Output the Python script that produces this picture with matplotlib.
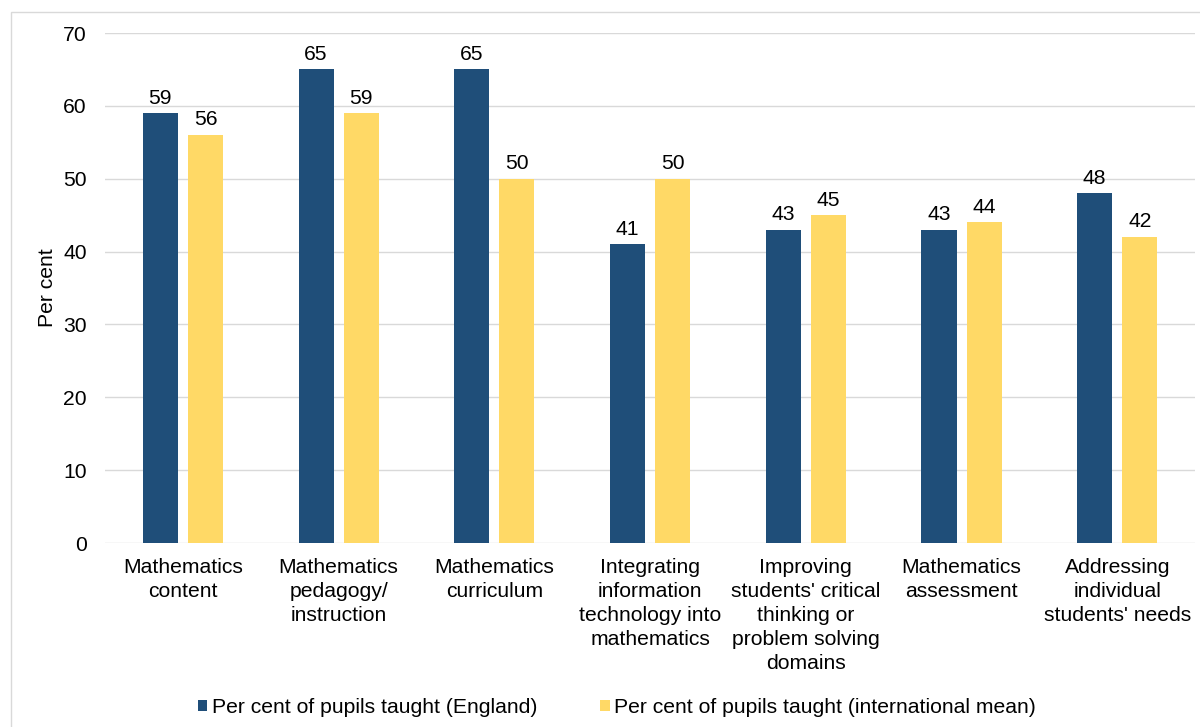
import matplotlib
matplotlib.use("Agg")
import matplotlib.pyplot as plt
from matplotlib.patches import Rectangle
import numpy as np

plt.rcParams['font.family'] = ['Liberation Sans', 'DejaVu Sans']

categories = ["Mathematics\ncontent", "Mathematics\npedagogy/\ninstruction",
              "Mathematics\ncurriculum",
              "Integrating\ninformation\ntechnology into\nmathematics",
              "Improving\nstudents' critical\nthinking or\nproblem solving\ndomains",
              "Mathematics\nassessment",
              "Addressing\nindividual\nstudents' needs"]
england = [59, 65, 65, 41, 43, 43, 48]
intl_mean = [56, 59, 50, 50, 45, 44, 42]
series_names = ["Per cent of pupils taught (England)",
                "Per cent of pupils taught (international mean)"]

blue = "#1F4E79"
yellow = "#FFD966"
fs = 15.2

fig = plt.figure(figsize=(12, 7.27), dpi=100)
ax = fig.add_axes([0.0875, 0.253, 0.9085, 0.7016])

x = np.arange(len(categories))
w = 0.225
off = 0.145
b1 = ax.bar(x - off, england, w, color=blue, label=series_names[0], zorder=3)
b2 = ax.bar(x + off, intl_mean, w, color=yellow, label=series_names[1], zorder=3)

for bars in (b1, b2):
    for r in bars:
        ax.annotate(f"{r.get_height():.0f}", (r.get_x() + r.get_width() / 2, r.get_height()),
                    xytext=(0, 4), textcoords="offset points", ha="center", va="bottom",
                    fontsize=fs, color="#000000")

ax.set_xlim(-0.5, len(categories) - 0.5)
ax.set_ylim(0, 70)
ax.set_yticks(range(0, 71, 10))
ax.set_xticks(x)
ax.set_xticklabels(categories, fontsize=fs, linespacing=1.32)
ax.tick_params(axis="y", labelsize=fs, length=0, pad=13)
ax.tick_params(axis="x", length=0, pad=11)
ax.grid(axis="y", color="#D9D9D9", linewidth=1, zorder=0)
for s in ax.spines.values():
    s.set_visible(False)
ax.set_ylabel("Per cent", fontsize=fs)
ax.yaxis.set_label_coords(-0.044, 0.5)

fig.legend(handles=[b1, b2], loc="center", bbox_to_anchor=(0.514, 0.027), ncol=2,
           frameon=False, fontsize=fs, handlelength=0.45, handleheight=0.45,
           handletextpad=0.2, columnspacing=3.0)

fig.patches.append(Rectangle((0.009, -0.1), 1.2, 1.084, transform=fig.transFigure,
                             fill=False, edgecolor="#D9D9D9", linewidth=1))

fig.savefig("out.png", dpi=100)
